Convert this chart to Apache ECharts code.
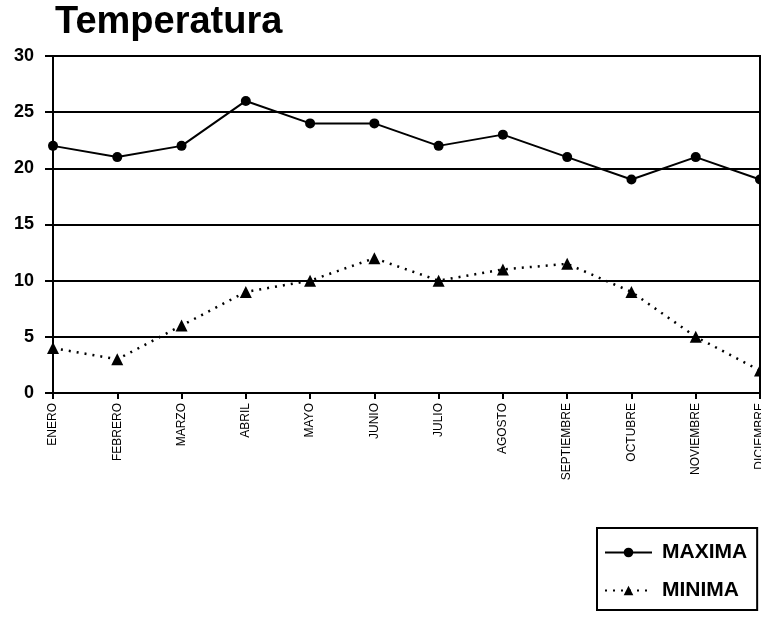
<!DOCTYPE html>
<html><head><meta charset="utf-8">
<script src="https://cdn.jsdelivr.net/npm/echarts@6/dist/echarts.min.js"></script>
<style>html,body{margin:0;padding:0;background:#fff}#c{width:761px;height:617px}</style>
</head><body><div id="c"></div>
<script>
const months = ['ENERO','FEBRERO','MARZO','ABRIL','MAYO','JUNIO','JULIO','AGOSTO','SEPTIEMBRE','OCTUBRE','NOVIEMBRE','DICIEMBRE'];
const maxima = [22, 21, 22, 26, 24, 24, 22, 23, 21, 19, 21, 19];
const minima = [4, 3, 6, 9, 10, 12, 10, 11, 11.5, 9, 5, 2];
const yTicks = [0, 5, 10, 15, 20, 25, 30];

const chart = echarts.init(document.getElementById('c'));
const bold = "'Liberation Sans', Arial, sans-serif";
chart.setOption({
  animation: false,
  title: {
    text: 'Temperatura', left: 50, top: -1,
    textStyle: { fontFamily: bold, fontWeight: 'bold', fontSize: 38, color: '#000' }
  },
  grid: { left: 53, right: 1, top: 56, bottom: 224, show: true, borderColor: '#000', borderWidth: 2, outerBoundsMode: 'none' },
  legend: {
    orient: 'vertical', left: 597, top: 528, padding: [14, 10, 9, 7], itemGap: 17,
    borderColor: '#000', borderWidth: 2, itemWidth: 47, itemHeight: 12,
    textStyle: { fontFamily: bold, fontWeight: 'bold', fontSize: 21, color: '#000', padding: [0, 0, 0, 5] },
    data: ['MAXIMA', 'MINIMA']
  },
  xAxis: {
    type: 'category', data: months, boundaryGap: false,
    axisLine: { lineStyle: { color: '#000', width: 2 } },
    axisTick: { show: true, length: 6, lineStyle: { color: '#000', width: 2 } },
    axisLabel: { rotate: 90, fontSize: 12, margin: 10, color: '#000', fontFamily: "'Liberation Sans', sans-serif", interval: 0 },
    splitLine: { show: false }
  },
  yAxis: {
    type: 'value', min: yTicks[0], max: yTicks[yTicks.length - 1], interval: 5,
    axisLine: { show: true, lineStyle: { color: '#000', width: 2 } },
    axisTick: { show: true, length: 8, lineStyle: { color: '#000', width: 2 } },
    axisLabel: { fontSize: 18, fontWeight: 'bold', fontFamily: bold, color: '#000', margin: 19 },
    splitLine: { show: true, lineStyle: { color: '#000', width: 2 } }
  },
  series: [
    { name: 'MAXIMA', type: 'line', data: maxima, symbol: 'circle', symbolSize: 10,
      lineStyle: { color: '#000', width: 2 }, itemStyle: { color: '#000' } },
    { name: 'MINIMA', type: 'line', data: minima, symbol: 'triangle', symbolSize: 12,
      lineStyle: { color: '#000', width: 2.5, type: [2, 6] }, itemStyle: { color: '#000' } }
  ]
});
</script></body></html>
